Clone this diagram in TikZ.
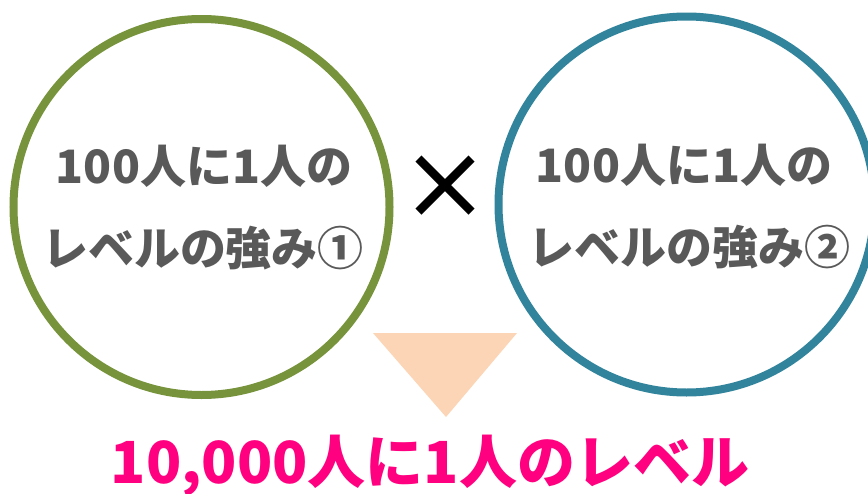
\documentclass[tikz,border=0pt]{standalone}
\usepackage{fontspec}
\newfontfamily\jp{Noto Sans CJK JP}
\newfontfamily\symf{DejaVu Sans}
\definecolor{cgreen}{HTML}{77933C}
\definecolor{cteal}{HTML}{31849B}
\definecolor{cgray}{HTML}{595959}
\definecolor{cpink}{HTML}{FF0080}
\definecolor{cpeach}{HTML}{FBD5B5}
\tikzset{
  ring/.style={circle, draw, line width=8pt, minimum size=376pt, inner sep=0pt},
  ctext/.style={anchor=base, text=cgray, font=\jp\bfseries\fontsize{46}{50}\selectfont, inner sep=0pt},
  restext/.style={anchor=base, text=cpink, font=\jp\bfseries\fontsize{58}{60}\selectfont, inner sep=0pt},
  timesmark/.style={text=black, font=\symf\fontsize{105}{110}\selectfont, inner sep=0pt}
}
\begin{document}
\begin{tikzpicture}[x=1pt,y=-1pt]
\useasboundingbox (0,0) rectangle (868,493);
\fill[white] (0,0) rectangle (868,493);
\node[ring, draw=cgreen] (c1) at (201.5,207) {};
\node[ring, draw=cteal] (c2) at (686.5,204.5) {};
\node[ctext] (t1a) at (204,183) {100人に1人の};
\node[ctext] (t1b) at (203,265) {レベルの強み①};
\node[ctext] (t2a) at (684,182) {100人に1人の};
\node[ctext] (t2b) at (689,264) {レベルの強み②};
\node[timesmark] (x) at (445,187) {×};
\fill[cpeach] (373,333) -- (517,333) -- (446,417) -- cycle;
\node[restext] (res) at (430,483) {10,000人に1人のレベル};
\end{tikzpicture}
\end{document}
